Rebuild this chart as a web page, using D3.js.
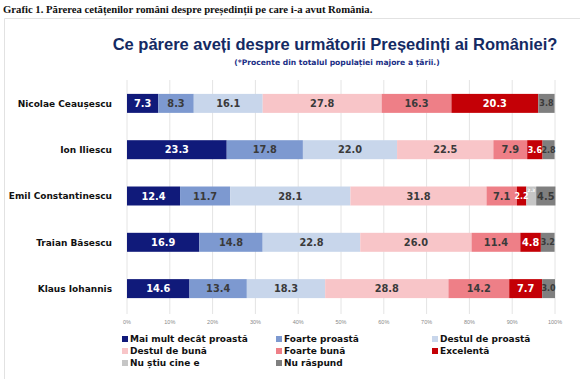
<!DOCTYPE html>
<html>
<head>
<meta charset="utf-8">
<script src="https://cdn.jsdelivr.net/npm/d3@7"></script>
<style>
  body { margin: 0; background: #fff; }
  svg { display: block; font-family: "Liberation Sans", Arial, sans-serif; }
  .heavy { font-family: "DejaVu Sans", "Liberation Sans", sans-serif; font-weight: bold; }
</style>
</head>
<body>
<svg></svg>
<script>
var presidents = ["Nicolae Ceaușescu", "Ion Iliescu", "Emil Constantinescu", "Traian Băsescu", "Klaus Iohannis"];
var categories = ["Mai mult decât proastă", "Foarte proastă", "Destul de proastă", "Destul de bună",
                  "Foarte bună", "Excelentă", "Nu știu cine e", "Nu răspund"];
var colors = ["#101a7a", "#7d99d0", "#c8d6eb", "#f8c5c8", "#ee7f87", "#c40006", "#c6c6c6", "#7f7f7f"];

var vCeausescu = [7.3, 8.3, 16.1, 27.8, 16.3, 20.3, 0, 3.8];
var vIliescu = [23.3, 17.8, 22.0, 22.5, 7.9, 3.6, 0, 2.8];
var vConstantinescu = [12.4, 11.7, 28.1, 31.8, 7.1, 2.2, 2.3, 4.5];
var vBasescu = [16.9, 14.8, 22.8, 26.0, 11.4, 4.8, 0, 3.2];
var vIohannis = [14.6, 13.4, 18.3, 28.8, 14.2, 7.7, 0, 3.0];
var values = [vCeausescu, vIliescu, vConstantinescu, vBasescu, vIohannis];

var ticks = [0, 10, 20, 30, 40, 50, 60, 70, 80, 90, 100];

var width = 580, height = 388;
var svg = d3.select("svg").attr("width", width).attr("height", height);

// header line above the panel
svg.append("text")
    .attr("x", 3).attr("y", 13)
    .style("font-family", "'Liberation Serif', 'Times New Roman', serif")
    .style("font-weight", "bold")
    .style("font-size", "10.7px")
    .attr("fill", "#111")
    .text("Grafic 1. Părerea cetățenilor români despre președinții pe care i-a avut România.");

// panel border
svg.append("path")
    .attr("d", "M4.5,379 L4.5,18.5 L580,18.5")
    .attr("fill", "none")
    .attr("stroke", "#e2e2e2");

svg.append("text")
    .attr("x", 335).attr("y", 50)
    .attr("text-anchor", "middle")
    .style("font-weight", "bold")
    .style("font-size", "16.5px")
    .attr("fill", "#142a63")
    .text("Ce părere aveți despre următorii Președinți ai României?");

svg.append("text")
    .attr("class", "heavy")
    .attr("x", 337).attr("y", 65)
    .attr("text-anchor", "middle")
    .style("font-size", "7.6px")
    .attr("fill", "#1b2f86")
    .text("(*Procente din totalul populației majore a țării.)");

var x = d3.scaleLinear().domain([0, 100]).range([127, 555]);
var y = d3.scaleBand().domain(presidents).range([80, 312]).paddingInner(0.59).paddingOuter(0.3);

// grid
svg.append("g").selectAll("line")
    .data(ticks)
    .enter().append("line")
      .attr("x1", function(d) { return x(d); })
      .attr("x2", function(d) { return x(d); })
      .attr("y1", 80).attr("y2", 314)
      .attr("stroke", "#e4e4e4")
      .attr("stroke-width", 1);

svg.append("g").selectAll("text")
    .data(ticks)
    .enter().append("text")
      .attr("x", function(d) { return x(d); })
      .attr("y", 324)
      .attr("text-anchor", "middle")
      .style("font-size", "5.5px")
      .attr("fill", "#8a8a8a")
      .text(function(d) { return d + "%"; });

// stacked rows
var rows = presidents.map(function(p, i) {
  var acc = 0;
  return values[i].map(function(v, j) {
    var seg = { name: p, cat: j, v: v, x0: acc, x1: acc + v };
    acc += v;
    return seg;
  });
});

var row = svg.append("g").selectAll("g")
    .data(rows)
    .enter().append("g");

row.selectAll("rect")
    .data(function(d) { return d.filter(function(s) { return s.v > 0; }); })
    .enter().append("rect")
      .attr("x", function(d) { return x(d.x0); })
      .attr("width", function(d) { return x(d.x1) - x(d.x0); })
      .attr("y", function(d) { return y(d.name); })
      .attr("height", y.bandwidth())
      .attr("fill", function(d) { return colors[d.cat]; });

row.selectAll("text")
    .data(function(d) { return d.filter(function(s) { return s.v > 0; }); })
    .enter().append("text")
      .attr("class", "heavy")
      .attr("x", function(d) { return x((d.x0 + d.x1) / 2); })
      .attr("y", function(d) { return y(d.name) + y.bandwidth() / 2; })
      .attr("text-anchor", "middle")
      .style("font-size", function(d) {
        if (d.cat === 6) return "4.5px";
        return d.v < 4 ? "8px" : "9.8px";
      })
      .attr("dy", function(d) { return d.cat === 6 ? "-0.8em" : "0.36em"; })
      .attr("fill", function(d) {
        if (d.cat === 0 || d.cat === 5 || d.cat === 6) return "#fff";
        return "#3a3a3a";
      })
      .text(function(d) { return d.v.toFixed(1); });

// category labels
svg.append("g").selectAll("text")
    .data(presidents)
    .enter().append("text")
      .attr("class", "heavy")
      .attr("x", 112)
      .attr("y", function(d) { return y(d) + y.bandwidth() / 2; })
      .attr("dy", "0.36em")
      .attr("text-anchor", "end")
      .style("font-size", "9px")
      .attr("fill", "#111")
      .text(function(d) { return d; });

// legend
var legX = [122, 276, 432];
var legend = svg.append("g").selectAll("g")
    .data(categories)
    .enter().append("g")
      .attr("transform", function(d, i) {
        return "translate(" + legX[i % 3] + "," + (339 + Math.floor(i / 3) * 12) + ")";
      });

legend.append("rect")
    .attr("x", 0).attr("y", -3)
    .attr("width", 6).attr("height", 6)
    .attr("fill", function(d, i) { return colors[i]; });

legend.append("text")
    .attr("class", "heavy")
    .attr("x", 8).attr("y", 0)
    .attr("dy", "0.36em")
    .style("font-size", "9px")
    .attr("fill", "#111")
    .text(function(d) { return d; });
</script>
</body>
</html>
